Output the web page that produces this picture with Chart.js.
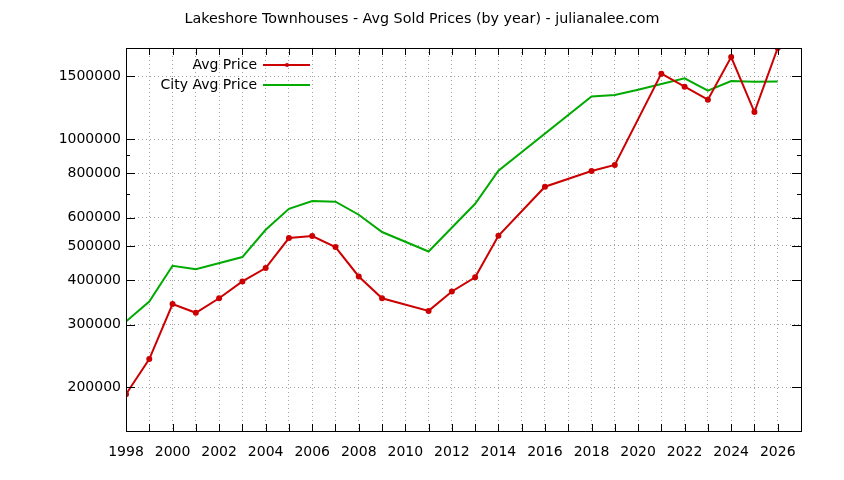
<!DOCTYPE html>
<html lang="en">
  <head>
    <meta charset="UTF-8" />
    <title>Lakeshore Townhouses - Avg Sold Prices</title>
    <script src="https://cdn.jsdelivr.net/npm/chart.js"></script>
    <style>
      html, body { margin: 0; padding: 0; background: #fff; }
      canvas { display: block; }
    </style>
  </head>
  <body>
    <canvas id="priceChart" width="844" height="480"></canvas>

    <script>
      // Data
      const avgYears = [1998, 1999, 2000, 2001, 2002, 2003, 2004, 2005, 2006, 2007, 2008, 2009,
        2011, 2012, 2013, 2014, 2016, 2018, 2019, 2021, 2022, 2023, 2024, 2025, 2026];
      const avgPrice = [191000, 240000, 343000, 324000, 356000, 397000, 433000, 526000, 533000, 496000, 410000, 356000,
        328000, 372000, 408000, 534000, 734000, 813000, 845000, 1528000, 1404000, 1291000, 1702000, 1191000, 1805000];

      const cityYears = [1998, 1999, 2000, 2001, 2003, 2004, 2005, 2006, 2007, 2008, 2009,
        2011, 2013, 2014, 2018, 2019, 2020, 2021, 2022, 2023, 2024, 2025, 2026];
      const cityPrice = [306000, 348500, 439500, 430000, 465000, 555000, 636000, 669000, 666000, 612000, 547000,
        482000, 657000, 814000, 1318000, 1330000, 1377000, 1429000, 1482000, 1368000, 1457000, 1450000, 1453000];

      const yTicks = [200000, 300000, 400000, 500000, 600000, 800000, 1000000, 1500000];
      const yMinorTicks = [700000, 900000];

      const FONT = "'DejaVu Sans', sans-serif";

      // frame, inward tick marks and the in-plot key, gnuplot style
      const framePlugin = {
        id: "frame",
        afterDraw(chart) {
          const { ctx, chartArea: a, scales } = chart;
          const xs = scales.x, ys = scales.y;
          ctx.save();
          ctx.strokeStyle = "#000";
          ctx.lineWidth = 1;
          ctx.beginPath();
          for (let yr = 1999; yr < 2027; yr++) {
            const px = Math.round(xs.getPixelForValue(yr)) + 0.5;
            ctx.moveTo(px, a.bottom); ctx.lineTo(px, a.bottom - 7);
            ctx.moveTo(px, a.top); ctx.lineTo(px, a.top + 7);
          }
          yTicks.forEach((v) => {
            const py = Math.round(ys.getPixelForValue(v)) + 0.5;
            ctx.moveTo(a.left, py); ctx.lineTo(a.left + 9, py);
            ctx.moveTo(a.right, py); ctx.lineTo(a.right - 9, py);
          });
          yMinorTicks.forEach((v) => {
            const py = Math.round(ys.getPixelForValue(v)) + 0.5;
            ctx.moveTo(a.left, py); ctx.lineTo(a.left + 4, py);
            ctx.moveTo(a.right, py); ctx.lineTo(a.right - 4, py);
          });
          ctx.stroke();
          ctx.strokeRect(Math.round(a.left) + 0.5, Math.round(a.top) + 0.5,
            Math.round(a.right - a.left), Math.round(a.bottom - a.top));

          // key
          ctx.font = "14px " + FONT;
          ctx.textAlign = "right";
          ctx.textBaseline = "middle";
          chart.data.datasets.forEach((ds, i) => {
            const ky = 65 + i * 20;
            ctx.fillStyle = "#000";
            ctx.fillText(ds.label, 257, ky);
            ctx.strokeStyle = ds.borderColor;
            ctx.lineWidth = 2;
            ctx.beginPath();
            ctx.moveTo(263, ky); ctx.lineTo(310, ky);
            ctx.stroke();
            if (ds.pointRadius > 0) {
              ctx.fillStyle = ds.borderColor;
              ctx.beginPath();
              ctx.arc(287, ky, ds.pointRadius, 0, Math.PI * 2);
              ctx.fill();
            }
          });
          ctx.restore();
        },
      };

      const ctx = document.getElementById("priceChart").getContext("2d");

      const priceChart = new Chart(ctx, {
        type: "line",
        data: {
          datasets: [
            {
              label: "Avg Price",
              data: avgYears.map((yr, i) => ({ x: yr, y: avgPrice[i] })),
              borderColor: "#cc0000",
              backgroundColor: "#cc0000",
              borderWidth: 2,
              pointRadius: 2,
              pointHoverRadius: 2,
              tension: 0,
            },
            {
              label: "City Avg Price",
              data: cityYears.map((yr, i) => ({ x: yr, y: cityPrice[i] })),
              borderColor: "#00aa00",
              backgroundColor: "#00aa00",
              borderWidth: 2,
              pointRadius: 0,
              tension: 0,
            },
          ],
        },
        options: {
          responsive: false,
          animation: false,
          devicePixelRatio: 1,
          layout: { padding: 0 },
          plugins: {
            legend: { display: false },
            tooltip: { enabled: false },
            title: {
              display: true,
              text: "Lakeshore Townhouses - Avg Sold Prices (by year) - julianalee.com",
              color: "#000",
              font: { family: FONT, size: 14.3, weight: "normal" },
              padding: { top: 11, bottom: 19.8 },
            },
          },
          scales: {
            x: {
              type: "linear",
              min: 1998,
              max: 2027,
              afterFit: (s) => { s.height = 49; },
              ticks: {
                stepSize: 1,
                autoSkip: false,
                maxRotation: 0,
                padding: 13,
                color: "#000",
                font: { family: FONT, size: 14 },
                callback: (v) => (v % 2 === 0 && v < 2027 ? String(v) : ""),
              },
              grid: {
                drawTicks: false,
                color: (c) => (c.tick && (c.tick.value === 1998 || c.tick.value === 2027) ? "rgba(0,0,0,0)" : "#a0a0a0"),
              },
              border: { display: false, dash: [1, 3] },
            },
            y: {
              type: "logarithmic",
              min: 150500,
              max: 1805000,
              afterFit: (s) => { s.width = 126; },
              afterBuildTicks: (s) => { s.ticks = yTicks.map((v) => ({ value: v })); },
              ticks: {
                padding: 5,
                color: "#000",
                font: { family: FONT, size: 14 },
                callback: (v) => String(v),
              },
              grid: { drawTicks: false, color: "#a0a0a0" },
              border: { display: false, dash: [1, 3] },
            },
            // empty right margin so the title stays centred on the page
            y2: {
              type: "linear",
              position: "right",
              afterFit: (s) => { s.width = 43; },
              ticks: { display: false },
              grid: { display: false },
              border: { display: false },
            },
          },
        },
        plugins: [framePlugin],
      });
    </script>
  </body>
</html>
